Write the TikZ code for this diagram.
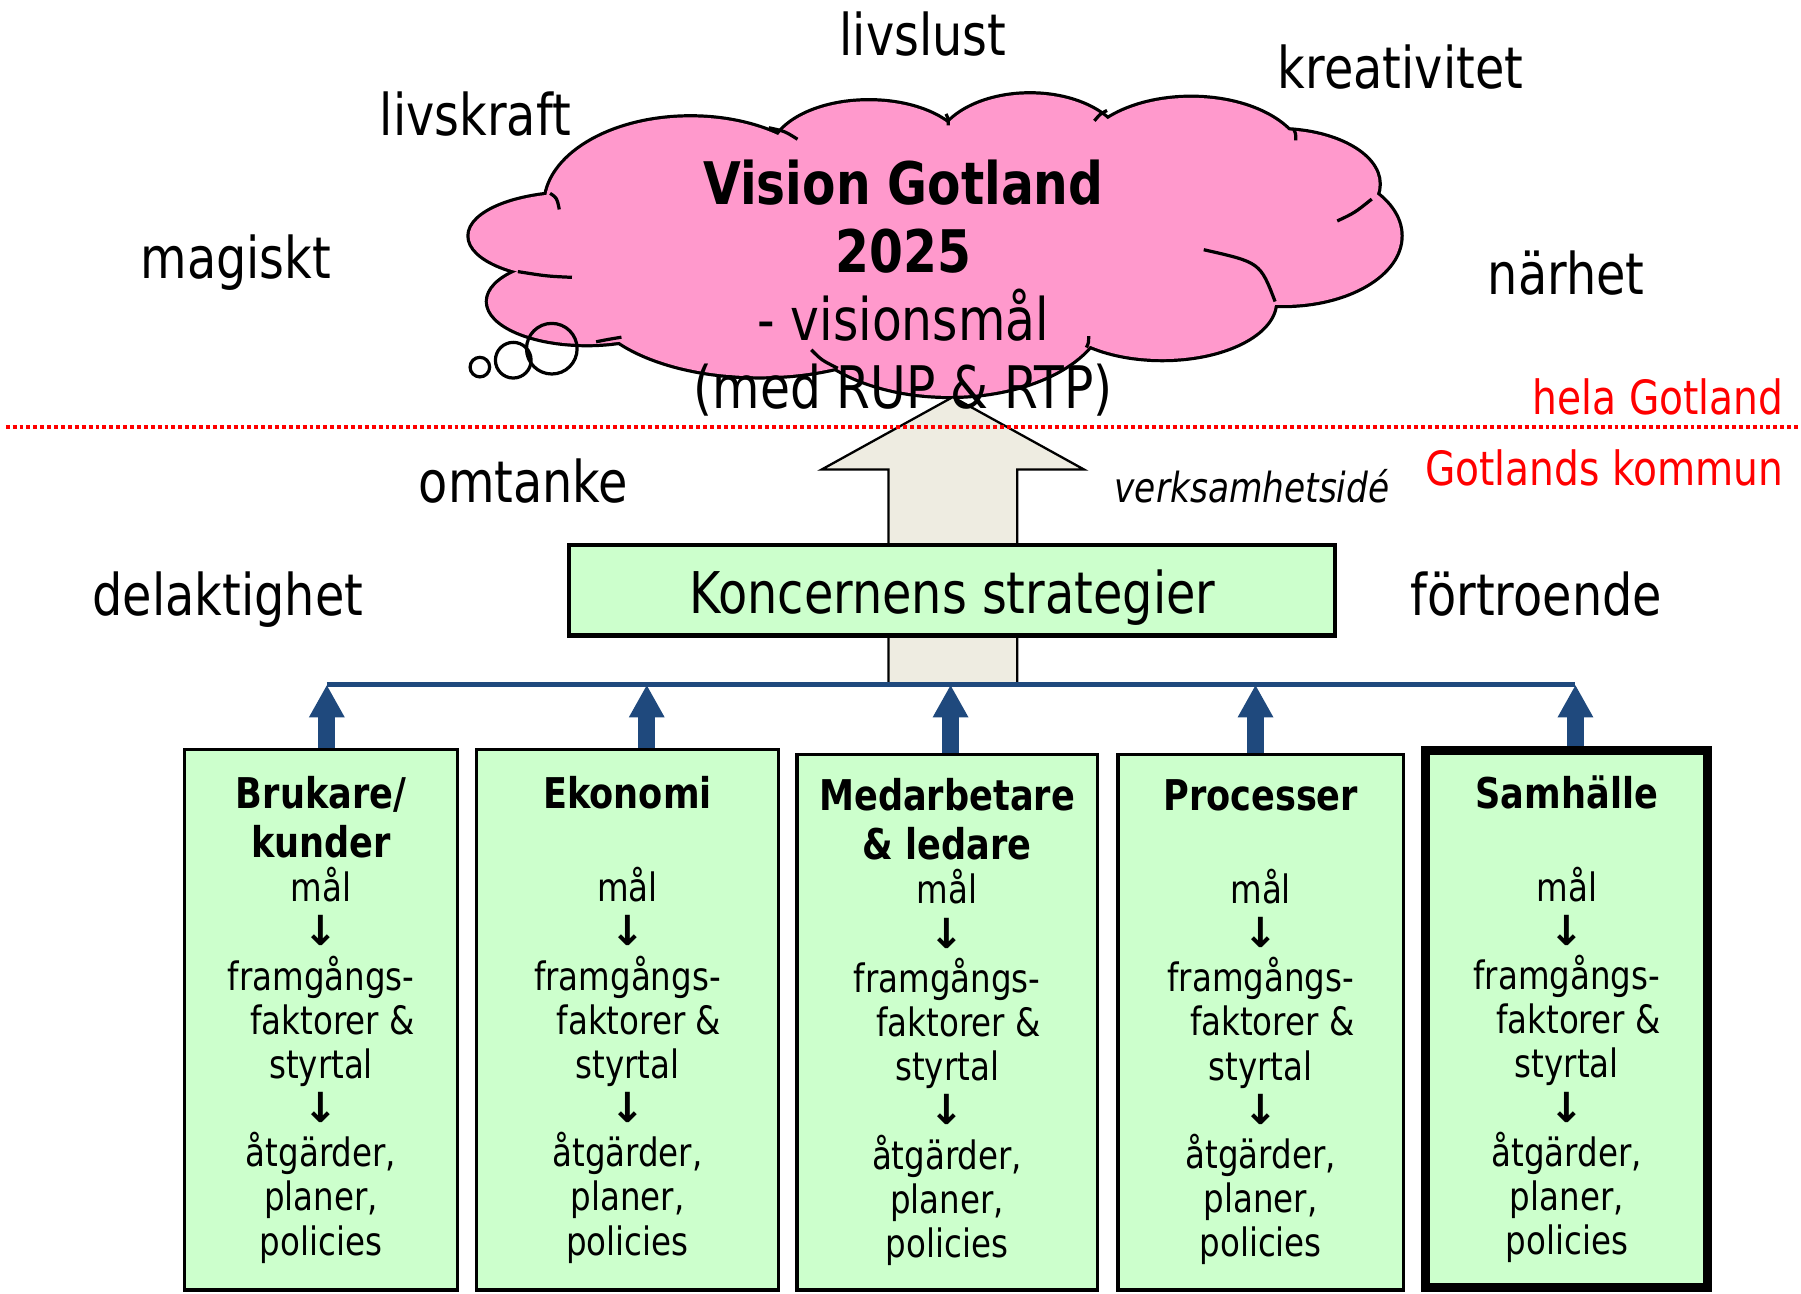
\documentclass[tikz,border=0pt]{standalone}
\usepackage{fontspec}
\setmainfont{DejaVu Sans}[FakeStretch=0.83]
\newfontfamily\arrowfont{DejaVu Sans}
\usetikzlibrary{arrows.meta}

\definecolor{cloudpink}{HTML}{FF99CC}
\definecolor{boxgreen}{HTML}{CCFFCC}
\definecolor{arrowtan}{HTML}{EEECE1}
\definecolor{lineblue}{HTML}{1F497D}

\tikzset{
  word/.style={anchor=base, inner sep=0pt, font=\fontsize{25}{30}\selectfont},
  redword/.style={anchor=base east, inner sep=0pt, text=red, font=\fontsize{20.5}{24}\selectfont},
  bump/.style={draw=black, line width=2.8pt},
  tail/.style={draw=black, line width=1.4pt},
  colbox/.style={draw=black, line width=1.5pt, fill=boxgreen, align=center, inner sep=0pt,
    font=\fontsize{17}{19.2}\selectfont},
  uparrow/.style={draw=lineblue, line width=7.25pt, -{Triangle[length=14.2pt,width=14.5pt]}},
}

\newcommand{\dn}{{\arrowfont\fontsize{18}{19.2}\selectfont\bfseries ↓}}
\newcommand{\hd}[1]{{\fontsize{18.4}{19.2}\selectfont\bfseries #1}}
\newcommand{\fk}{\hspace*{10pt}faktorer \&}
\def\cloudbumps{600/178/126/76, 755/135/85/47, 895/132/82/50, 1035/142/98/57,
  1110/160/88/47, 1115/205/102/60, 1010/262/98/50, 825/268/135/76,
  660/255/150/72, 510/262/86/37, 500/205/92/37}

\begin{document}
\begin{tikzpicture}[x=0.5pt,y=-0.5pt]
\useasboundingbox (0,0) rectangle (1565,1124.4);

% cloud
\foreach \cx/\cy/\rx/\ry in \cloudbumps
  \draw[bump] (\cx,\cy) ellipse [x radius=\rx, y radius=\ry];
\fill[cloudpink] (600,178) -- (755,135) -- (895,132) -- (1035,142) -- (1110,160) -- (1115,205)
  -- (1010,262) -- (825,268) -- (660,255) -- (510,262) -- (500,205) -- cycle;
\foreach \cx/\cy/\rx/\ry in \cloudbumps
  \fill[cloudpink] (\cx,\cy) ellipse [x radius=\rx, y radius=\ry];

\draw[tail] (478,168) .. controls (484,172) .. (486,182);
\draw[tail] (668,111) .. controls (682,114) .. (693,121);
\draw[tail] (822,99) .. controls (824,103) .. (824,109);
\draw[tail] (962,96) .. controls (956,99) .. (951,105);
\draw[tail] (1124,112) .. controls (1126,116) .. (1126,122);
\draw[tail] (1192,173) .. controls (1177,185) .. (1162,192);
\draw[tail] (1046,217) .. controls (1095,228) .. (1108,262);
\draw[tail] (944,302) .. controls (946,298) .. (946,292);
\draw[tail] (705,304) .. controls (714,313) .. (728,320);
\draw[tail] (518,297) .. controls (528,295) .. (540,293);
\draw[tail] (450,236) .. controls (475,240) .. (497,241);

\draw[tail] (479.5,303) circle [radius=22];
\draw[tail] (446,313) circle [radius=15.5];
\draw[tail] (417,319) circle [radius=8.5];

% big arrow
\filldraw[fill=arrowtan, draw=black, line width=1pt] (772,595) -- (772,408) -- (714,408) -- (828,345)
  -- (942,408) -- (884,408) -- (884,595);

\node[inner sep=0pt, align=center, font=\fontsize{25.5}{29.5}\selectfont] (V) at (785,250.5)
  {\textbf{Vision Gotland}\\ \textbf{2025}\\ - visionsmål\\ (med RUP \& RTP)};

\draw[red, line width=1.6pt, dash pattern=on 1.7pt off 1.3pt] (5,371) -- (1562,371);

\node[draw=black, line width=1.8pt, fill=boxgreen, inner sep=0pt, minimum width=332.7pt,
  minimum height=39.2pt, text height=20pt, text depth=0pt, font=\fontsize{25}{30}\selectfont]
  (S) at (827.5,513) {Koncernens strategier};

% goal boxes
\node[colbox, minimum width=118.5pt, minimum height=234.75pt] (B1) at (279,886.25)
  {\hd{Brukare/}\\[2pt] \hd{kunder}\\ mål\\ \dn\\ framgångs-\\ \fk\\ styrtal\\ \dn\\ åtgärder,\\ planer,\\ policies};
\node[colbox, minimum width=131.25pt, minimum height=234.75pt] (B2) at (545.25,886.25)
  {\hd{Ekonomi}\\[2pt] ~\\ mål\\ \dn\\ framgångs-\\ \fk\\ styrtal\\ \dn\\ åtgärder,\\ planer,\\ policies};
\node[colbox, minimum width=130.5pt, minimum height=232.75pt] (B3) at (823,888.25)
  {\hd{Medarbetare}\\[2pt] \hd{\& ledare}\\ mål\\ \dn\\ framgångs-\\ \fk\\ styrtal\\ \dn\\ åtgärder,\\ planer,\\ policies};
\node[colbox, minimum width=124pt, minimum height=232.75pt] (B4) at (1095.5,888.25)
  {\hd{Processer}\\[2pt] ~\\ mål\\ \dn\\ framgångs-\\ \fk\\ styrtal\\ \dn\\ åtgärder,\\ planer,\\ policies};
\node[colbox, line width=4pt, minimum width=122.5pt, minimum height=233.5pt] (B5) at (1361.5,885.5)
  {\hd{Samhälle}\\[2pt] ~\\ mål\\ \dn\\ framgångs-\\ \fk\\ styrtal\\ \dn\\ åtgärder,\\ planer,\\ policies};

\coordinate (P1) at (284,595);
\coordinate (P2) at (562,595);
\coordinate (P3) at (826,595);
\coordinate (P4) at (1091,595);
\coordinate (P5) at (1369,595);
\draw[lineblue, line width=2pt] (P1) -- (P5);
\draw[uparrow] (B1.north -| P1) -- (P1);
\draw[uparrow] (B2.north -| P2) -- (P2);
\draw[uparrow] (B3.north -| P3) -- (P3);
\draw[uparrow] (B4.north -| P4) -- (P4);
\draw[uparrow] (B5.north -| P5) -- (P5);

% values around the vision
\node[word] (W1) at (802,48) {livslust};
\node[word] (W2) at (1217,77) {kreativitet};
\node[word] (W3) at (413,118) {livskraft};
\node[word] (W4) at (205,242) {magiskt};
\node[word] (W5) at (1361,256) {närhet};
\node[word] (W6) at (455,437) {omtanke};
\node[word] (W7) at (198,535) {delaktighet};
\node[word] (W8) at (1335,535) {förtroende};
\node[word, font=\fontsize{18}{22}\selectfont\itshape] (W9) at (1088,437) {verksamhetsidé};
\node[redword] (R1) at (1550,360) {hela Gotland};
\node[redword] (R2) at (1550,422) {Gotlands kommun};

\end{tikzpicture}
\end{document}
